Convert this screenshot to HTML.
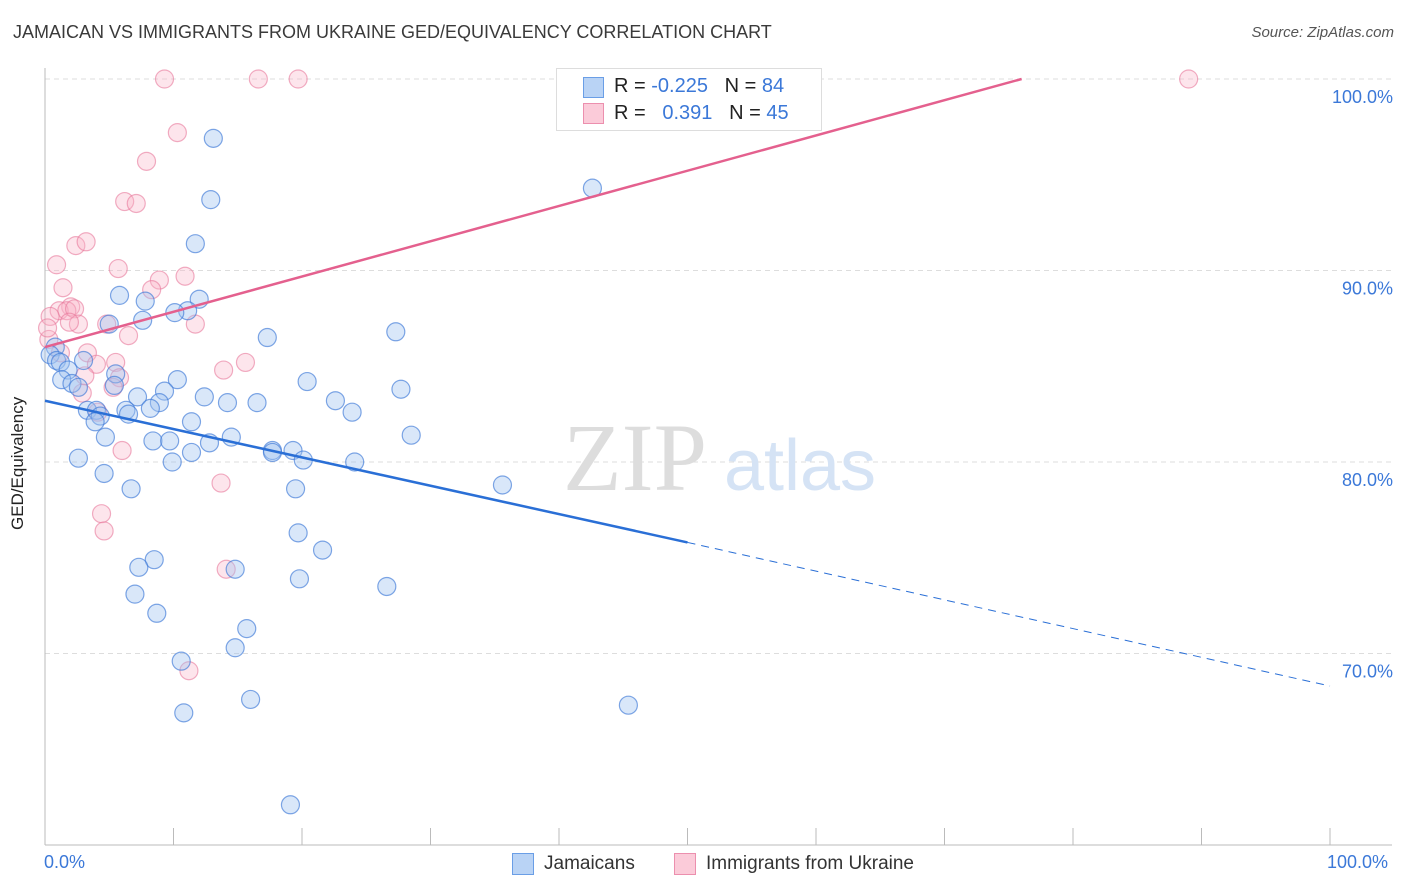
<!DOCTYPE html>
<html><head><meta charset="utf-8"><style>
body{margin:0;background:#fff;font-family:"Liberation Sans",sans-serif;}
#wrap{position:relative;width:1406px;height:892px;overflow:hidden;}
.t{position:absolute;white-space:nowrap;}
</style></head><body>
<div id="wrap">
<div class="t" style="left:13px;top:22px;font-size:18px;color:#3a3a3a;">JAMAICAN VS IMMIGRANTS FROM UKRAINE GED/EQUIVALENCY CORRELATION CHART</div>
<div class="t" style="right:12px;top:24px;font-size:15px;color:#555;font-style:italic;">Source: ZipAtlas.com</div>
<svg id="svg" width="1406" height="892" style="position:absolute;left:0;top:0;"></svg>
</div>
<script>
const blueX=[13.1,12.9,11.7,42.6,5.8,7.8,12.0,11.1,10.1,7.6,5.0,17.3,27.3,0.8,0.4,0.9,1.2,3.0,1.8,1.3,2.1,2.6,5.5,5.4,10.3,9.3,7.2,8.9,8.2,12.4,14.2,16.5,20.4,27.7,22.6,23.9,3.3,4.0,4.3,3.9,6.3,6.5,4.7,8.4,9.7,11.4,12.8,14.5,17.7,17.7,19.3,20.1,24.1,28.5,2.6,4.6,9.9,11.4,6.7,35.6,19.5,19.7,21.6,8.5,7.3,14.8,19.8,26.6,7.0,8.7,15.7,14.8,10.6,10.8,16.0,45.4,19.1];
const blueY=[96.9,93.7,91.4,94.3,88.7,88.4,88.5,87.9,87.8,87.4,87.2,86.5,86.8,86.0,85.6,85.3,85.2,85.3,84.8,84.3,84.1,83.9,84.6,84.0,84.3,83.7,83.4,83.1,82.8,83.4,83.1,83.1,84.2,83.8,83.2,82.6,82.7,82.7,82.4,82.1,82.7,82.5,81.3,81.1,81.1,82.1,81.0,81.3,80.6,80.5,80.6,80.1,80.0,81.4,80.2,79.4,80.0,80.5,78.6,78.8,78.6,76.3,75.4,74.9,74.5,74.4,73.9,73.5,73.1,72.1,71.3,70.3,69.6,66.9,67.6,67.3,62.1];
const pinkX=[9.3,16.6,19.7,89.0,10.3,7.9,6.2,7.1,2.4,3.2,0.9,5.7,10.9,8.9,8.3,1.4,2.0,1.1,1.7,2.3,0.4,2.6,1.9,4.8,11.7,6.5,0.3,3.3,4.0,5.5,15.6,13.9,5.8,2.9,5.3,4.1,6.0,13.7,4.4,4.6,14.1,11.2,0.2,3.1,1.2];
const pinkY=[100,100,100,100,97.2,95.7,93.6,93.5,91.3,91.5,90.3,90.1,89.7,89.5,89.0,89.1,88.1,87.9,87.9,88.0,87.6,87.2,87.3,87.2,87.2,86.6,86.4,85.7,85.1,85.2,85.2,84.8,84.4,83.6,83.9,82.6,80.6,78.9,77.3,76.4,74.4,69.1,87.0,84.5,85.7];
const blueTrend=[83.2,75.8,68.3];
const pinkTrend=[86.0,100,76.0];
const yTicks=[100,90,80,70];
const xTickVals=[0,10,20,30,40,50,60,70,80,90,100];

const X0=45,X1=1330,YT=79,YB=845;
const sx=v=>X0+(X1-X0)*v/100;
const sy=v=>YT+(100-v)*(YB-YT)/40;
const svg=document.getElementById('svg');
const NS='http://www.w3.org/2000/svg';
function mk(tag,attrs){const e=document.createElementNS(NS,tag);for(const k in attrs)e.setAttribute(k,attrs[k]);svg.appendChild(e);return e;}

yTicks.forEach(v=>{
 const g=mk('line',{x1:X0,x2:1392,y1:sy(v),y2:sy(v),stroke:'#ddd','stroke-dasharray':'5,4'});
 
 
 const t=mk('text',{x:1393,y:sy(v)+24,'text-anchor':'end','font-size':18,fill:'#3b78d8','font-family':'Liberation Sans, sans-serif'});
 t.textContent=v.toFixed(1)+'%';
 
 
});
const ax=mk('line',{x1:X0,x2:X0,y1:68,y2:YB,stroke:'#bbb'});


const bx=mk('line',{x1:X0,x2:1392,y1:YB,y2:YB,stroke:'#bbb'});


xTickVals.forEach(v=>{
 const l=mk('line',{x1:sx(v),x2:sx(v),y1:828,y2:YB,stroke:'#bbb'});
 
 
});
const wm=mk('text',{x:635,y:490,'font-size':96,fill:'#ddd','font-family':'Liberation Serif, serif','text-anchor':'middle'});
wm.textContent='ZIP';


const wm2=mk('text',{x:800,y:490,'font-size':72,fill:'#d5e3f5','font-family':'Liberation Sans, sans-serif','text-anchor':'middle'});
wm2.textContent='atlas';



pinkX.forEach((x,i)=>{
 const c=mk('circle',{cx:sx(x),cy:sy(pinkY[i]),r:9,fill:'rgba(248,180,200,0.35)',stroke:'rgba(232,120,155,0.6)','stroke-width':1.2});
 
 
});
blueX.forEach((x,i)=>{
 const c=mk('circle',{cx:sx(x),cy:sy(blueY[i]),r:9,fill:'rgba(160,195,240,0.4)',stroke:'rgba(60,120,215,0.65)','stroke-width':1.2});
 
 
});
const pt=mk('line',{x1:sx(0),y1:sy(pinkTrend[0]),x2:sx(pinkTrend[2]),y2:sy(pinkTrend[1]),stroke:'#e4608e','stroke-width':2.5});


const bt=mk('line',{x1:sx(0),y1:sy(blueTrend[0]),x2:sx(50),y2:sy(blueTrend[1]),stroke:'#2a6fd6','stroke-width':2.5});


const bd=mk('line',{x1:sx(50),y1:sy(blueTrend[1]),x2:sx(100),y2:sy(blueTrend[2]),stroke:'#2a6fd6','stroke-width':1,'stroke-dasharray':'8,6'});


</script>
<div class="t" style="left:556px;top:68px;width:264px;height:61px;border:1px solid #ddd;background:#fff;">
 <div class="t" style="left:26px;top:8px;width:19px;height:19px;background:#b9d3f5;border:1px solid #6a9ee6;"></div>
 <div class="t" style="left:26px;top:34px;width:19px;height:19px;background:#fbcbd9;border:1px solid #ec8fae;"></div>
 <div class="t" style="left:57px;top:6px;font-size:20px;color:#222;">R = <span style="color:#3b78d8">-0.225</span>&nbsp;&nbsp;&nbsp;N = <span style="color:#3b78d8">84</span></div>
 <div class="t" style="left:57px;top:33px;font-size:20px;color:#222;">R = &nbsp;&nbsp;<span style="color:#3b78d8">0.391</span>&nbsp;&nbsp;&nbsp;N = <span style="color:#3b78d8">45</span></div>
</div>
<div class="t" style="left:44px;top:852px;font-size:18px;color:#3b78d8;">0.0%</div>
<div class="t" style="left:1327px;top:852px;font-size:18px;color:#3b78d8;">100.0%</div>
<div class="t" style="left:8px;top:530px;font-size:17px;color:#222;transform:rotate(-90deg);transform-origin:left top;">GED/Equivalency</div>
<div class="t" style="left:512px;top:853px;width:20px;height:20px;background:#b9d3f5;border:1px solid #6a9ee6;"></div>
<div class="t" style="left:544px;top:853px;font-size:19px;color:#333;">Jamaicans</div>
<div class="t" style="left:674px;top:853px;width:20px;height:20px;background:#fbcbd9;border:1px solid #ec8fae;"></div>
<div class="t" style="left:706px;top:853px;font-size:19px;color:#333;">Immigrants from Ukraine</div>
</body></html>
